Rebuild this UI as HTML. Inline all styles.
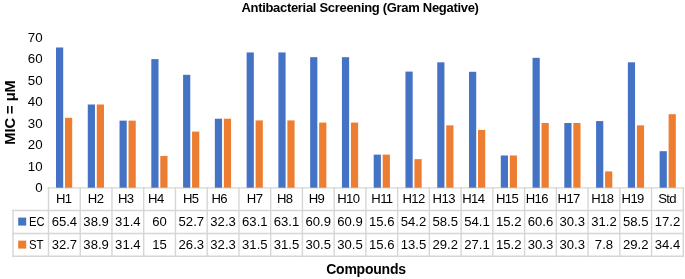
<!DOCTYPE html><html><head><meta charset="utf-8"><style>html,body{margin:0;padding:0;background:#fff;width:685px;height:279px;overflow:hidden}svg{display:block;will-change:transform}text{font-family:"Liberation Sans",sans-serif}</style></head><body>
<svg width="685" height="279" viewBox="0 0 685 279">
<rect width="685" height="279" fill="#fff"/>
<line x1="48.50" y1="187.85" x2="683.30" y2="187.85" stroke="#D6D6D6" stroke-width="1.40" stroke-linecap="square"/>
<line x1="13.00" y1="210.50" x2="683.30" y2="210.50" stroke="#D6D6D6" stroke-width="1.40" stroke-linecap="square"/>
<line x1="13.00" y1="233.45" x2="683.30" y2="233.45" stroke="#D6D6D6" stroke-width="1.40" stroke-linecap="square"/>
<line x1="13.00" y1="256.30" x2="683.30" y2="256.30" stroke="#D6D6D6" stroke-width="1.40" stroke-linecap="square"/>
<line x1="13.00" y1="210.50" x2="13.00" y2="256.30" stroke="#D6D6D6" stroke-width="1.40" stroke-linecap="square"/>
<line x1="48.50" y1="187.85" x2="48.50" y2="256.30" stroke="#D6D6D6" stroke-width="1.40" stroke-linecap="square"/>
<line x1="80.24" y1="187.85" x2="80.24" y2="256.30" stroke="#D6D6D6" stroke-width="1.40" stroke-linecap="square"/>
<line x1="111.98" y1="187.85" x2="111.98" y2="256.30" stroke="#D6D6D6" stroke-width="1.40" stroke-linecap="square"/>
<line x1="143.72" y1="187.85" x2="143.72" y2="256.30" stroke="#D6D6D6" stroke-width="1.40" stroke-linecap="square"/>
<line x1="175.46" y1="187.85" x2="175.46" y2="256.30" stroke="#D6D6D6" stroke-width="1.40" stroke-linecap="square"/>
<line x1="207.20" y1="187.85" x2="207.20" y2="256.30" stroke="#D6D6D6" stroke-width="1.40" stroke-linecap="square"/>
<line x1="238.94" y1="187.85" x2="238.94" y2="256.30" stroke="#D6D6D6" stroke-width="1.40" stroke-linecap="square"/>
<line x1="270.68" y1="187.85" x2="270.68" y2="256.30" stroke="#D6D6D6" stroke-width="1.40" stroke-linecap="square"/>
<line x1="302.42" y1="187.85" x2="302.42" y2="256.30" stroke="#D6D6D6" stroke-width="1.40" stroke-linecap="square"/>
<line x1="334.16" y1="187.85" x2="334.16" y2="256.30" stroke="#D6D6D6" stroke-width="1.40" stroke-linecap="square"/>
<line x1="365.90" y1="187.85" x2="365.90" y2="256.30" stroke="#D6D6D6" stroke-width="1.40" stroke-linecap="square"/>
<line x1="397.64" y1="187.85" x2="397.64" y2="256.30" stroke="#D6D6D6" stroke-width="1.40" stroke-linecap="square"/>
<line x1="429.38" y1="187.85" x2="429.38" y2="256.30" stroke="#D6D6D6" stroke-width="1.40" stroke-linecap="square"/>
<line x1="461.12" y1="187.85" x2="461.12" y2="256.30" stroke="#D6D6D6" stroke-width="1.40" stroke-linecap="square"/>
<line x1="492.86" y1="187.85" x2="492.86" y2="256.30" stroke="#D6D6D6" stroke-width="1.40" stroke-linecap="square"/>
<line x1="524.60" y1="187.85" x2="524.60" y2="256.30" stroke="#D6D6D6" stroke-width="1.40" stroke-linecap="square"/>
<line x1="556.34" y1="187.85" x2="556.34" y2="256.30" stroke="#D6D6D6" stroke-width="1.40" stroke-linecap="square"/>
<line x1="588.08" y1="187.85" x2="588.08" y2="256.30" stroke="#D6D6D6" stroke-width="1.40" stroke-linecap="square"/>
<line x1="619.82" y1="187.85" x2="619.82" y2="256.30" stroke="#D6D6D6" stroke-width="1.40" stroke-linecap="square"/>
<line x1="651.56" y1="187.85" x2="651.56" y2="256.30" stroke="#D6D6D6" stroke-width="1.40" stroke-linecap="square"/>
<line x1="683.30" y1="187.85" x2="683.30" y2="256.30" stroke="#D6D6D6" stroke-width="1.40" stroke-linecap="square"/>
<rect x="56.00" y="47.49" width="7.20" height="140.21" fill="#4472C4"/>
<rect x="65.00" y="117.84" width="7.20" height="69.86" fill="#ED7D31"/>
<rect x="87.77" y="104.50" width="7.20" height="83.20" fill="#4472C4"/>
<rect x="96.77" y="104.50" width="7.20" height="83.20" fill="#ED7D31"/>
<rect x="119.54" y="120.64" width="7.20" height="67.06" fill="#4472C4"/>
<rect x="128.54" y="120.64" width="7.20" height="67.06" fill="#ED7D31"/>
<rect x="151.31" y="59.11" width="7.20" height="128.59" fill="#4472C4"/>
<rect x="160.31" y="155.92" width="7.20" height="31.78" fill="#ED7D31"/>
<rect x="183.08" y="74.81" width="7.20" height="112.89" fill="#4472C4"/>
<rect x="192.08" y="131.61" width="7.20" height="56.09" fill="#ED7D31"/>
<rect x="214.85" y="118.70" width="7.20" height="69.00" fill="#4472C4"/>
<rect x="223.85" y="118.70" width="7.20" height="69.00" fill="#ED7D31"/>
<rect x="246.62" y="52.44" width="7.20" height="135.26" fill="#4472C4"/>
<rect x="255.62" y="120.42" width="7.20" height="67.28" fill="#ED7D31"/>
<rect x="278.39" y="52.44" width="7.20" height="135.26" fill="#4472C4"/>
<rect x="287.39" y="120.42" width="7.20" height="67.28" fill="#ED7D31"/>
<rect x="310.16" y="57.17" width="7.20" height="130.53" fill="#4472C4"/>
<rect x="319.16" y="122.57" width="7.20" height="65.13" fill="#ED7D31"/>
<rect x="341.93" y="57.17" width="7.20" height="130.53" fill="#4472C4"/>
<rect x="350.93" y="122.57" width="7.20" height="65.13" fill="#ED7D31"/>
<rect x="373.70" y="154.63" width="7.20" height="33.07" fill="#4472C4"/>
<rect x="382.70" y="154.63" width="7.20" height="33.07" fill="#ED7D31"/>
<rect x="405.47" y="71.58" width="7.20" height="116.12" fill="#4472C4"/>
<rect x="414.47" y="159.15" width="7.20" height="28.55" fill="#ED7D31"/>
<rect x="437.24" y="62.33" width="7.20" height="125.37" fill="#4472C4"/>
<rect x="446.24" y="125.37" width="7.20" height="62.33" fill="#ED7D31"/>
<rect x="469.01" y="71.80" width="7.20" height="115.90" fill="#4472C4"/>
<rect x="478.01" y="129.89" width="7.20" height="57.81" fill="#ED7D31"/>
<rect x="500.78" y="155.49" width="7.20" height="32.21" fill="#4472C4"/>
<rect x="509.78" y="155.49" width="7.20" height="32.21" fill="#ED7D31"/>
<rect x="532.55" y="57.82" width="7.20" height="129.88" fill="#4472C4"/>
<rect x="541.55" y="123.00" width="7.20" height="64.70" fill="#ED7D31"/>
<rect x="564.32" y="123.00" width="7.20" height="64.70" fill="#4472C4"/>
<rect x="573.32" y="123.00" width="7.20" height="64.70" fill="#ED7D31"/>
<rect x="596.09" y="121.07" width="7.20" height="66.63" fill="#4472C4"/>
<rect x="605.09" y="171.41" width="7.20" height="16.29" fill="#ED7D31"/>
<rect x="627.86" y="62.33" width="7.20" height="125.37" fill="#4472C4"/>
<rect x="636.86" y="125.37" width="7.20" height="62.33" fill="#ED7D31"/>
<rect x="659.63" y="151.19" width="7.20" height="36.51" fill="#4472C4"/>
<rect x="668.63" y="114.18" width="7.20" height="73.52" fill="#ED7D31"/>
<text x="63.69" y="203.08" font-size="13.10" letter-spacing="-0.60" text-anchor="middle" fill="#000000">H1</text>
<text x="64.37" y="225.88" font-size="13.10" text-anchor="middle" fill="#000000">65.4</text>
<text x="64.37" y="248.78" font-size="13.10" text-anchor="middle" fill="#000000">32.7</text>
<text x="95.60" y="203.08" font-size="13.10" letter-spacing="-0.60" text-anchor="middle" fill="#000000">H2</text>
<text x="96.11" y="225.88" font-size="13.10" text-anchor="middle" fill="#000000">38.9</text>
<text x="96.11" y="248.78" font-size="13.10" text-anchor="middle" fill="#000000">38.9</text>
<text x="125.68" y="203.08" font-size="13.10" letter-spacing="-0.60" text-anchor="middle" fill="#000000">H3</text>
<text x="127.85" y="225.88" font-size="13.10" text-anchor="middle" fill="#000000">31.4</text>
<text x="127.85" y="248.78" font-size="13.10" text-anchor="middle" fill="#000000">31.4</text>
<text x="155.84" y="203.08" font-size="13.10" letter-spacing="-0.60" text-anchor="middle" fill="#000000">H4</text>
<text x="159.59" y="225.88" font-size="13.10" text-anchor="middle" fill="#000000">60</text>
<text x="159.59" y="248.78" font-size="13.10" text-anchor="middle" fill="#000000">15</text>
<text x="190.65" y="203.08" font-size="13.10" letter-spacing="-0.60" text-anchor="middle" fill="#000000">H5</text>
<text x="191.33" y="225.88" font-size="13.10" text-anchor="middle" fill="#000000">52.7</text>
<text x="191.33" y="248.78" font-size="13.10" text-anchor="middle" fill="#000000">26.3</text>
<text x="219.24" y="203.08" font-size="13.10" letter-spacing="-0.60" text-anchor="middle" fill="#000000">H6</text>
<text x="223.07" y="225.88" font-size="13.10" text-anchor="middle" fill="#000000">32.3</text>
<text x="223.07" y="248.78" font-size="13.10" text-anchor="middle" fill="#000000">32.3</text>
<text x="254.63" y="203.08" font-size="13.10" letter-spacing="-0.60" text-anchor="middle" fill="#000000">H7</text>
<text x="254.81" y="225.88" font-size="13.10" text-anchor="middle" fill="#000000">63.1</text>
<text x="254.81" y="248.78" font-size="13.10" text-anchor="middle" fill="#000000">31.5</text>
<text x="284.71" y="203.08" font-size="13.10" letter-spacing="-0.60" text-anchor="middle" fill="#000000">H8</text>
<text x="286.55" y="225.88" font-size="13.10" text-anchor="middle" fill="#000000">63.1</text>
<text x="286.55" y="248.78" font-size="13.10" text-anchor="middle" fill="#000000">31.5</text>
<text x="316.53" y="203.08" font-size="13.10" letter-spacing="-0.60" text-anchor="middle" fill="#000000">H9</text>
<text x="318.29" y="225.88" font-size="13.10" text-anchor="middle" fill="#000000">60.9</text>
<text x="318.29" y="248.78" font-size="13.10" text-anchor="middle" fill="#000000">30.5</text>
<text x="348.35" y="203.08" font-size="13.10" letter-spacing="-0.60" text-anchor="middle" fill="#000000">H10</text>
<text x="350.03" y="225.88" font-size="13.10" text-anchor="middle" fill="#000000">60.9</text>
<text x="350.03" y="248.78" font-size="13.10" text-anchor="middle" fill="#000000">30.5</text>
<text x="381.92" y="203.08" font-size="13.10" letter-spacing="-0.60" text-anchor="middle" fill="#000000">H11</text>
<text x="381.77" y="225.88" font-size="13.10" text-anchor="middle" fill="#000000">15.6</text>
<text x="381.77" y="248.78" font-size="13.10" text-anchor="middle" fill="#000000">15.6</text>
<text x="413.50" y="203.08" font-size="13.10" letter-spacing="-0.60" text-anchor="middle" fill="#000000">H12</text>
<text x="413.51" y="225.88" font-size="13.10" text-anchor="middle" fill="#000000">54.2</text>
<text x="413.51" y="248.78" font-size="13.10" text-anchor="middle" fill="#000000">13.5</text>
<text x="443.74" y="203.08" font-size="13.10" letter-spacing="-0.60" text-anchor="middle" fill="#000000">H13</text>
<text x="445.25" y="225.88" font-size="13.10" text-anchor="middle" fill="#000000">58.5</text>
<text x="445.25" y="248.78" font-size="13.10" text-anchor="middle" fill="#000000">29.2</text>
<text x="473.30" y="203.08" font-size="13.10" letter-spacing="-0.60" text-anchor="middle" fill="#000000">H14</text>
<text x="476.99" y="225.88" font-size="13.10" text-anchor="middle" fill="#000000">54.1</text>
<text x="476.99" y="248.78" font-size="13.10" text-anchor="middle" fill="#000000">27.1</text>
<text x="507.07" y="203.08" font-size="13.10" letter-spacing="-0.60" text-anchor="middle" fill="#000000">H15</text>
<text x="508.73" y="225.88" font-size="13.10" text-anchor="middle" fill="#000000">15.2</text>
<text x="508.73" y="248.78" font-size="13.10" text-anchor="middle" fill="#000000">15.2</text>
<text x="536.78" y="203.08" font-size="13.10" letter-spacing="-0.60" text-anchor="middle" fill="#000000">H16</text>
<text x="540.47" y="225.88" font-size="13.10" text-anchor="middle" fill="#000000">60.6</text>
<text x="540.47" y="248.78" font-size="13.10" text-anchor="middle" fill="#000000">30.3</text>
<text x="568.69" y="203.08" font-size="13.10" letter-spacing="-0.60" text-anchor="middle" fill="#000000">H17</text>
<text x="572.21" y="225.88" font-size="13.10" text-anchor="middle" fill="#000000">30.3</text>
<text x="572.21" y="248.78" font-size="13.10" text-anchor="middle" fill="#000000">30.3</text>
<text x="602.27" y="203.08" font-size="13.10" letter-spacing="-0.60" text-anchor="middle" fill="#000000">H18</text>
<text x="603.95" y="225.88" font-size="13.10" text-anchor="middle" fill="#000000">31.2</text>
<text x="603.95" y="248.78" font-size="13.10" text-anchor="middle" fill="#000000">7.8</text>
<text x="632.67" y="203.08" font-size="13.10" letter-spacing="-0.60" text-anchor="middle" fill="#000000">H19</text>
<text x="635.69" y="225.88" font-size="13.10" text-anchor="middle" fill="#000000">58.5</text>
<text x="635.69" y="248.78" font-size="13.10" text-anchor="middle" fill="#000000">29.2</text>
<text x="667.09" y="203.08" font-size="13.10" letter-spacing="-0.60" text-anchor="middle" fill="#000000">Std</text>
<text x="667.43" y="225.88" font-size="13.10" text-anchor="middle" fill="#000000">17.2</text>
<text x="667.43" y="248.78" font-size="13.10" text-anchor="middle" fill="#000000">34.4</text>
<rect x="18.2" y="217.6" width="8" height="8" fill="#4472C4"/>
<rect x="18.2" y="240.6" width="8" height="8" fill="#ED7D31"/>
<text x="29.0" y="225.88" font-size="13.10" textLength="15.6" lengthAdjust="spacingAndGlyphs" fill="#000000">EC</text>
<text x="29.0" y="248.78" font-size="13.10" textLength="14.6" lengthAdjust="spacingAndGlyphs" fill="#000000">ST</text>
<text x="42.6" y="192.49" font-size="13.30" text-anchor="end" fill="#000000">0</text>
<text x="42.6" y="170.98" font-size="13.30" text-anchor="end" fill="#000000">10</text>
<text x="42.6" y="149.46" font-size="13.30" text-anchor="end" fill="#000000">20</text>
<text x="42.6" y="127.95" font-size="13.30" text-anchor="end" fill="#000000">30</text>
<text x="42.6" y="106.43" font-size="13.30" text-anchor="end" fill="#000000">40</text>
<text x="42.6" y="84.92" font-size="13.30" text-anchor="end" fill="#000000">50</text>
<text x="42.6" y="63.41" font-size="13.30" text-anchor="end" fill="#000000">60</text>
<text x="42.6" y="41.89" font-size="13.30" text-anchor="end" fill="#000000">70</text>
<text x="360" y="11.8" font-size="13.00" font-weight="bold" letter-spacing="-0.31" text-anchor="middle" fill="#000000">Antibacterial Screening (Gram Negative)</text>
<text x="366" y="274.4" font-size="14.00" font-weight="bold" letter-spacing="-0.22" text-anchor="middle" fill="#000000">Compounds</text>
<text transform="translate(15,112.5) rotate(-90)" x="0" y="0" font-size="14.60" font-weight="bold" text-anchor="middle" fill="#000000">MIC = μM</text>
</svg></body></html>
